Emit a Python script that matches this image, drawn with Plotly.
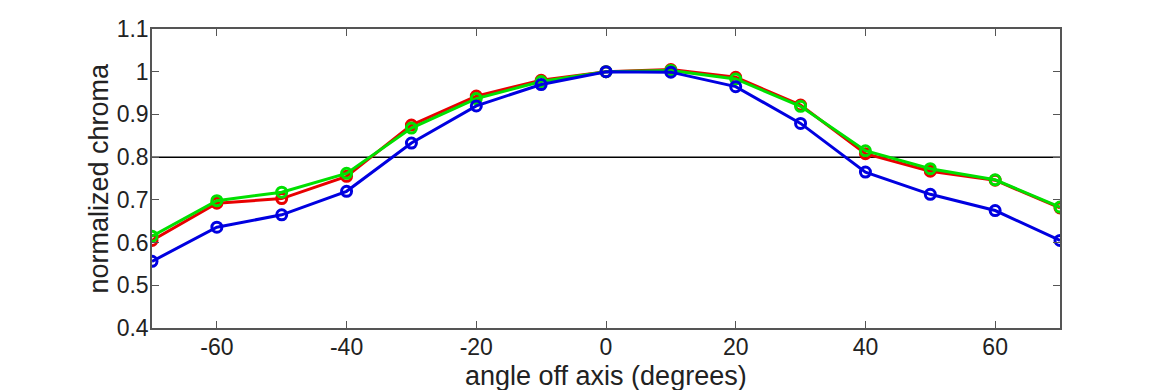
import plotly.graph_objects as go

angles = [-70, -60, -50, -40, -30, -20, -10, 0, 10, 20, 30, 40, 50, 60, 70]
red_vals = [0.605, 0.692, 0.703, 0.755, 0.875, 0.943, 0.980, 1.000, 1.005, 0.987, 0.922, 0.808, 0.767, 0.746, 0.681]
green_vals = [0.615, 0.698, 0.718, 0.762, 0.868, 0.937, 0.977, 1.000, 1.003, 0.983, 0.919, 0.815, 0.773, 0.747, 0.683]
blue_vals = [0.556, 0.636, 0.665, 0.720, 0.833, 0.920, 0.970, 1.000, 0.999, 0.965, 0.879, 0.765, 0.713, 0.675, 0.605]
threshold = 0.8
x_ticks = [-60, -40, -20, 0, 20, 40, 60]
x_tick_labels = ["-60", "-40", "-20", "0", "20", "40", "60"]
y_ticks = [0.4, 0.5, 0.6, 0.7, 0.8, 0.9, 1.0, 1.1]
y_tick_labels = ["0.4", "0.5", "0.6", "0.7", "0.8", "0.9", "1", "1.1"]
x_title = "angle off axis (degrees)"
y_title = "normalized chroma"

fig = go.Figure()
fig.add_trace(go.Scatter(x=[-70, 70], y=[threshold, threshold], mode="lines",
                         line=dict(color="black", width=1.5), hoverinfo="skip", showlegend=False))
for vals, col in [(red_vals, "#e80000"), (green_vals, "#00e000"), (blue_vals, "#0000e0")]:
    fig.add_trace(go.Scatter(
        x=angles, y=vals, mode="lines+markers",
        line=dict(color=col, width=3),
        marker=dict(symbol="circle-open", size=10, color=col, line=dict(width=3, color=col)),
        showlegend=False))

# The page body has an 8px margin; margins compensate so the plot lands where the reference has it.
fig.update_layout(
    width=1170, height=390,
    margin=dict(l=144, r=118, t=21, b=70),
    plot_bgcolor="white", paper_bgcolor="white",
    font=dict(family="Liberation Sans, Arial, sans-serif", size=23, color="#222"),
    xaxis=dict(range=[-70, 70], tickvals=x_ticks, ticktext=x_tick_labels, ticks="inside",
               ticklen=7, tickwidth=1, automargin=False, ticklabelstandoff=-2,
               tickcolor="#555", showline=True, linecolor="#555", linewidth=1.5, mirror="ticks",
               showgrid=False, zeroline=False, tickfont=dict(size=23)),
    yaxis=dict(range=[0.4, 1.1], tickvals=y_ticks, ticktext=y_tick_labels, ticks="inside",
               ticklen=7, tickwidth=1, automargin=False, ticklabelstandoff=-3, tickcolor="#555",
               showline=True, linecolor="#555", linewidth=1.5, mirror="ticks", showgrid=False,
               zeroline=False, tickfont=dict(size=23)),
    annotations=[
        dict(text=x_title, xref="paper", yref="paper", x=0.5, y=0, yshift=-48,
             xanchor="center", yanchor="middle", showarrow=False,
             font=dict(size=27, color="#222")),
        dict(text=y_title, xref="paper", yref="paper", x=0, y=0.5, xshift=-54,
             xanchor="center", yanchor="middle", textangle=-90, showarrow=False,
             font=dict(size=27, color="#222")),
    ],
)
fig.write_html("out.html")
